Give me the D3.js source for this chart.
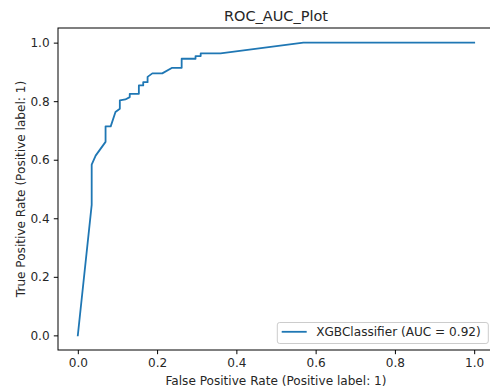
<!DOCTYPE html>
<html>
<head>
<meta charset="utf-8">
<script src="https://cdn.jsdelivr.net/npm/d3@7"></script>
<style>
  html, body { margin: 0; padding: 0; background: #fff; }
  svg { display: block; }
  text { font-family: "DejaVu Sans", sans-serif; fill: #262626; }
</style>
</head>
<body>
<svg id="chart" width="490" height="388"></svg>
<script>
// ---- data ----
const fpr = [0.000, 0.035, 0.035, 0.045, 0.070, 0.070, 0.083, 0.095, 0.106, 0.106, 0.120, 0.131, 0.131,
             0.154, 0.154, 0.165, 0.165, 0.176, 0.176, 0.188, 0.213, 0.238, 0.262, 0.262, 0.297, 0.297,
             0.310, 0.310, 0.360, 0.569, 1.000];
const tpr = [0.000, 0.446, 0.583, 0.614, 0.661, 0.714, 0.714, 0.763, 0.774, 0.803, 0.806, 0.814, 0.825,
             0.825, 0.854, 0.854, 0.865, 0.865, 0.883, 0.895, 0.895, 0.914, 0.914, 0.945, 0.945, 0.954,
             0.954, 0.963, 0.963, 1.000, 1.000];
const xTicks = [0.0, 0.2, 0.4, 0.6, 0.8, 1.0];
const yTicks = [0.0, 0.2, 0.4, 0.6, 0.8, 1.0];
const titleText = "ROC_AUC_Plot";
const xLabel = "False Positive Rate (Positive label: 1)";
const yLabel = "True Positive Rate (Positive label: 1)";
const legendLabel = "XGBClassifier (AUC = 0.92)";

(function () {
// ---- layout ----
const svg = d3.select("#chart");
const mLeft = 58, mRight = 494, mTop = 28, mBottom = 350;
const x = d3.scaleLinear().domain([-0.05, 1.05]).range([mLeft, mRight]);
const y = d3.scaleLinear().domain([-0.05, 1.05]).range([mBottom, mTop]);
const fs = 12.1;
const textColor = "#262626";

// curve
const pts = fpr.map((f, i) => [f, tpr[i]]);
svg.append("path")
  .datum(pts)
  .attr("fill", "none")
  .attr("stroke", "#1f77b4")
  .attr("stroke-width", 1.8)
  .attr("stroke-linejoin", "round")
  .attr("stroke-linecap", "square")
  .attr("d", d3.line().x(d => x(d[0])).y(d => y(d[1])));

// axes
const xAxis = d3.axisBottom(x).tickValues(xTicks).tickFormat(d3.format(".1f")).tickSize(4.2).tickPadding(4.2);
const yAxis = d3.axisLeft(y).tickValues(yTicks).tickFormat(d3.format(".1f")).tickSize(4.2).tickPadding(4.2);

const gx = svg.append("g").attr("transform", `translate(0,${mBottom})`).call(xAxis);
const gy = svg.append("g").attr("transform", `translate(${mLeft},0)`).call(yAxis);
[gx, gy].forEach(g => {
  g.select(".domain").remove();
  g.selectAll(".tick line").attr("stroke", "#000").attr("stroke-width", 1);
  g.selectAll(".tick text").attr("font-family", "DejaVu Sans").attr("font-size", fs).attr("fill", textColor);
});

// spines
svg.append("rect")
  .attr("x", mLeft).attr("y", mTop)
  .attr("width", mRight - mLeft).attr("height", mBottom - mTop)
  .attr("fill", "none").attr("stroke", "#000").attr("stroke-width", 1);

// title
svg.append("text")
  .attr("x", (mLeft + mRight) / 2).attr("y", 20.7)
  .attr("text-anchor", "middle")
  .attr("font-size", 14.5)
  .text(titleText);

// x label
svg.append("text")
  .attr("x", (mLeft + mRight) / 2).attr("y", 385)
  .attr("text-anchor", "middle")
  .attr("font-size", fs)
  .text(xLabel);

// y label
svg.append("text")
  .attr("transform", `translate(24.5,${(mTop + mBottom) / 2}) rotate(-90)`)
  .attr("text-anchor", "middle")
  .attr("font-size", fs)
  .text(yLabel);

// legend
const lg = svg.append("g");
lg.append("rect")
  .attr("x", 277.3).attr("y", 322.5)
  .attr("width", 211).attr("height", 21)
  .attr("rx", 2.4).attr("ry", 2.4)
  .attr("fill", "#fff").attr("fill-opacity", 0.8)
  .attr("stroke", "#cccccc").attr("stroke-width", 1);
lg.append("line")
  .attr("x1", 281.7).attr("x2", 306.7)
  .attr("y1", 331.8).attr("y2", 331.8)
  .attr("stroke", "#1f77b4").attr("stroke-width", 1.8);
lg.append("text")
  .attr("x", 316.2).attr("y", 336.2)
  .attr("font-size", fs)
  .text(legendLabel);
})();
</script>
</body>
</html>
